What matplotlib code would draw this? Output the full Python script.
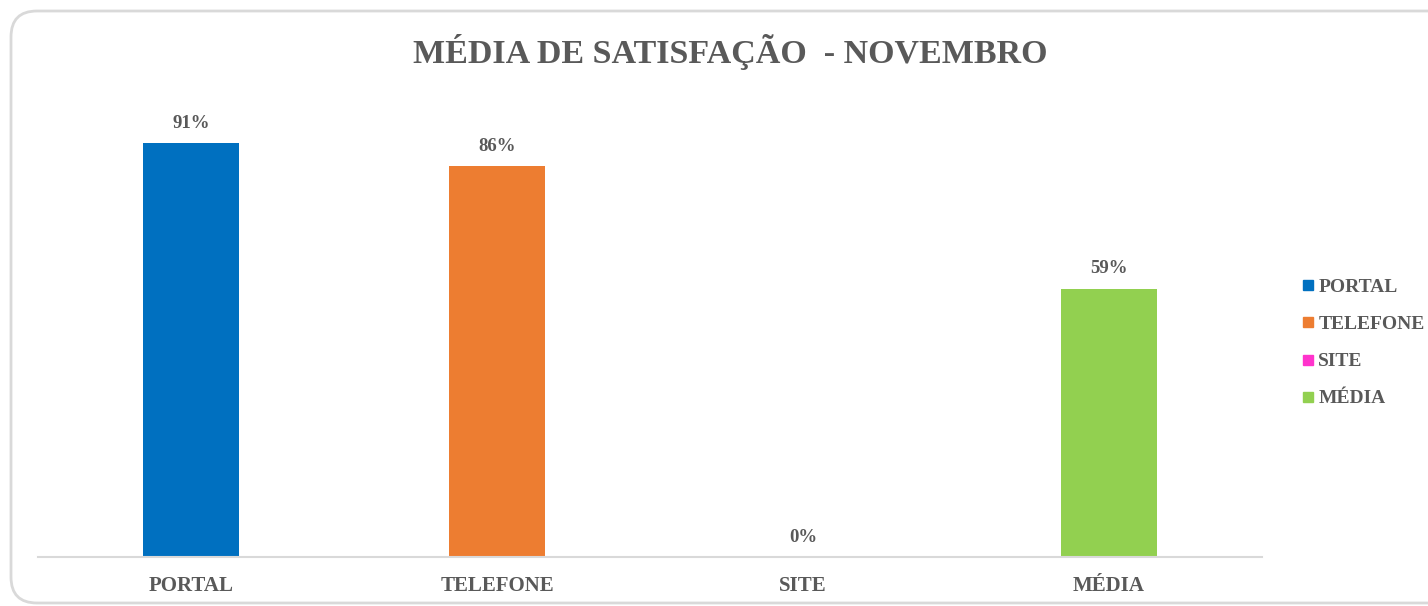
import matplotlib
matplotlib.use("Agg")
import matplotlib.pyplot as plt
from matplotlib.patches import PathPatch
from matplotlib.path import Path
from matplotlib.lines import Line2D
from matplotlib.transforms import IdentityTransform

categories = ["PORTAL", "TELEFONE", "SITE", "MÉDIA"]
values = [0.91, 0.86, 0.0, 0.59]
value_labels = ["91%", "86%", "0%", "59%"]
colors = ["#0070C0", "#ED7D31", "#FF33CC", "#92D050"]
title = "MÉDIA DE SATISFAÇÃO  - NOVEMBRO"

plt.rcParams['font.family'] = ['Liberation Serif', 'DejaVu Serif']
TXT = "#595959"

W, H = 1428, 606
fig = plt.figure(figsize=(W / 100, H / 100), dpi=100)

# rounded border on the left, running off the right edge (pixel coords, y up)
L, B, T, R, r = 11, 3, 595, 1440, 26
verts = [(R, T), (L + r, T), (L, T), (L, T - r), (L, B + r), (L, B), (L + r, B), (R, B)]
codes = [Path.MOVETO, Path.LINETO, Path.CURVE3, Path.CURVE3, Path.LINETO,
         Path.CURVE3, Path.CURVE3, Path.LINETO]
border = PathPatch(Path(verts, codes), transform=IdentityTransform(), fill=False,
                   edgecolor="#D9D9D9", linewidth=2)
fig.add_artist(border)

ax = fig.add_axes([38 / W, 49 / H, (1262 - 38) / W, (557 - 102) / H])
x = list(range(len(categories)))
ax.bar(x, values, width=0.314, color=colors)
ax.set_xlim(-0.5, len(categories) - 0.5)
ax.set_ylim(0, 1.0)
for xi, v, lab in zip(x, values, value_labels):
    ax.annotate(lab, (xi, v), xytext=(0, 8), textcoords="offset points",
                ha="center", va="bottom", fontsize=13.5, fontweight="bold", color=TXT)

ax.set_xticks(x)
ax.set_xticklabels(categories, fontsize=15, fontweight="bold", color=TXT)
ax.tick_params(axis="x", length=0, pad=14)
ax.set_yticks([])
for s in ["top", "right", "left"]:
    ax.spines[s].set_visible(False)
ax.spines["bottom"].set_color("#D9D9D9")
ax.spines["bottom"].set_linewidth(1.5)

fig.text(730 / W, 1 - 52 / H, title, ha="center", va="center",
         fontsize=24.5, fontweight="bold", color=TXT)

handles = [Line2D([], [], marker="s", linestyle="none", markersize=6.5,
                  markerfacecolor=c, markeredgecolor=c) for c in colors]
leg = fig.legend(handles, categories, loc="center left",
                 bbox_to_anchor=(1293 / W, 1 - 343 / H), frameon=False,
                 prop={"size": 14, "weight": "bold"}, labelspacing=1.0,
                 handlelength=0.5, handletextpad=0.3, borderpad=0)
for t in leg.get_texts():
    t.set_color(TXT)

fig.savefig("out.png", dpi=100)
